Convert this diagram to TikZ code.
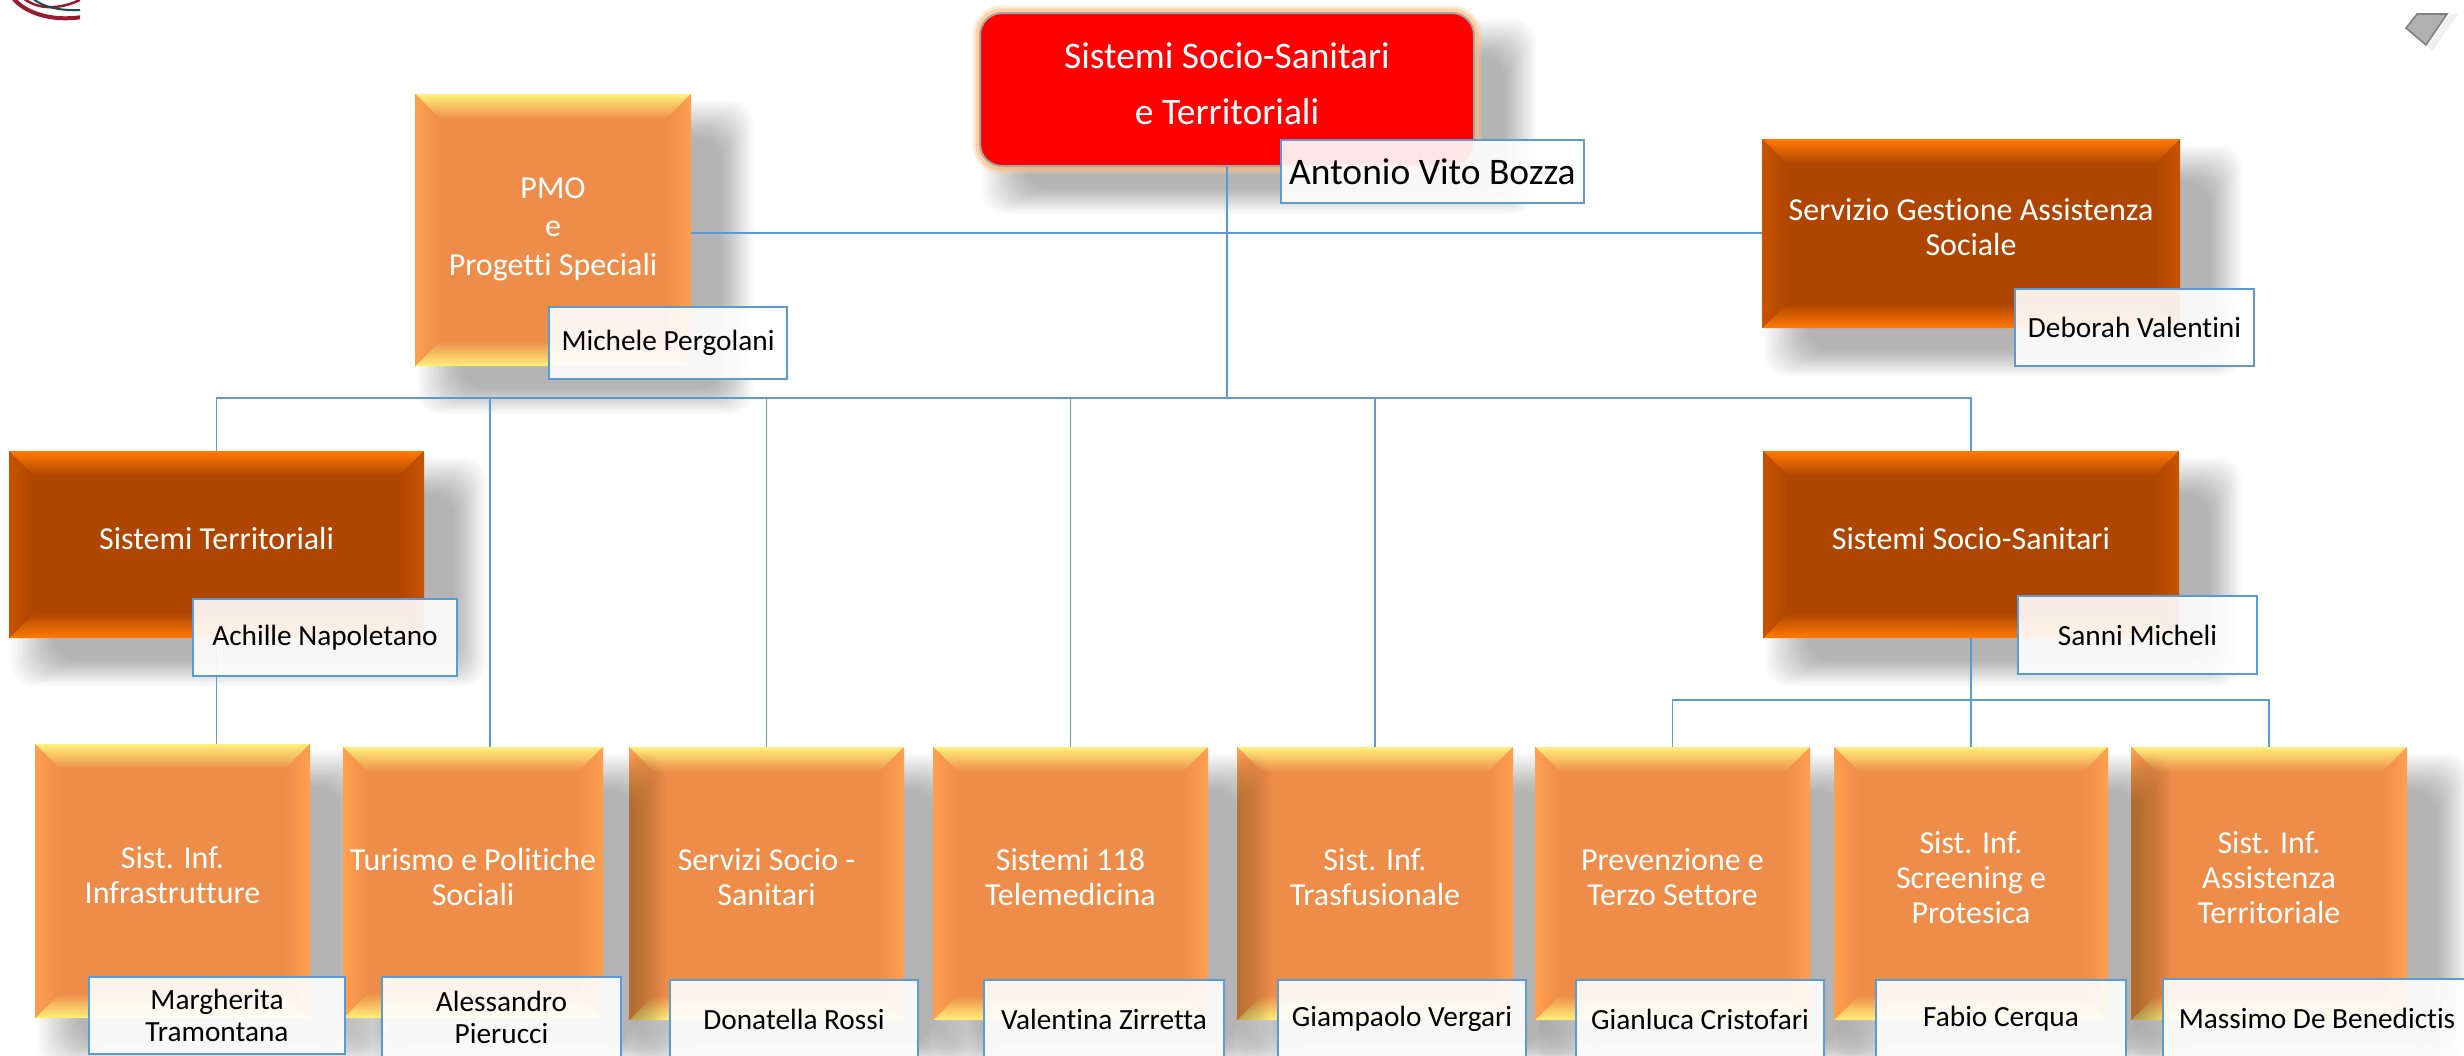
\documentclass[tikz,border=0pt]{standalone}
\usepackage{fontspec}
\setmainfont{Carlito}[Ligatures=NoCommon]
\usetikzlibrary{calc}
\definecolor{oEdge}{HTML}{FFF07A}\definecolor{oMid}{HTML}{FFAE5A}\definecolor{oSide}{HTML}{FFA050}\definecolor{oMain}{HTML}{EE8C4A}
\definecolor{dEdge}{HTML}{FF7A05}\definecolor{dMid}{HTML}{D85E00}\definecolor{dSide}{HTML}{C85400}\definecolor{dMain}{HTML}{AE4500}
\definecolor{linkblue}{HTML}{5B9BD5}
\definecolor{logored}{HTML}{9A1B30}
\definecolor{logoteal}{HTML}{1F4A58}
\newcommand{\boxfont}{\fontsize{32}{35}\selectfont}
\newcommand{\namefont}{\fontsize{29.3}{32}\selectfont}
\newcommand{\textshift}{-6}
\tikzset{
  boxbase/.style={inner sep=0pt,outer sep=0pt,draw=none},
  boxtext/.style={text=white,align=center,font=\boxfont,inner sep=0pt},
  namebox/.style={draw=linkblue,line width=2.6pt,fill=white,fill opacity=.9,text opacity=1,text=black,align=center,inner sep=0pt,font=\namefont},
  link/.style={draw=linkblue,line width=1.5pt},
}
\newcommand{\softshadow}[4]{%
  \foreach \i in {0,...,15}{
    \fill[black,opacity=.021,rounded corners=22pt]
      ({#1+2+\i*2.87},{#2+6+\i*2.47}) rectangle ({#3+62-\i*2.13},{#4+48-\i*1.73});
  }}
% name, x1, y1, x2, y2, colour prefix, text
\newcommand{\bevelbox}[7]{%
  \softshadow{#2}{#3}{#4}{#5}
  \node[boxbase,fill=#6Main,minimum width={(#4-#2)*1pt},minimum height={(#5-#3)*1pt},anchor=center] (#1) at ({(#2+#4)/2},{(#3+#5)/2}) {};
  \shade[top color=#6Edge,middle color=#6Mid,bottom color=#6Main] (#2,#3)--(#4,#3)--(#4-25,#3+25)--(#2+25,#3+25)--cycle;
  \shade[bottom color=#6Edge,middle color=#6Mid,top color=#6Main] (#2,#5)--(#4,#5)--(#4-25,#5-25)--(#2+25,#5-25)--cycle;
  \shade[left color=#6Side,right color=#6Main] (#2,#3)--(#2+25,#3+25)--(#2+25,#5-25)--(#2,#5)--cycle;
  \shade[right color=#6Side,left color=#6Main] (#4,#3)--(#4-25,#3+25)--(#4-25,#5-25)--(#4,#5)--cycle;
  \node[boxtext] (#1-text) at ($(#1.center)+(0,\textshift)$) {#7};
}
% name, x1, y1, x2, y2, text
\newcommand{\personbox}[6]{%
  \node[namebox,minimum width={(#4-#2)*1pt},minimum height={(#5-#3)*1pt}] (#1) at ({(#2+#4)/2},{(#3+#5)/2}) {#6};
}
\begin{document}
\begin{tikzpicture}[x=1pt,y=-1pt]
\useasboundingbox (0,0) rectangle (2464,1055);
\clip (0,0) rectangle (2464,1055);
\fill[white] (0,0) rectangle (2464,1055);
% cropped logo
\begin{scope}
\clip (0,0) rectangle (80,30);
\draw[color=logored,line width=4pt] (13,-2) .. controls (24,12) and (50,22) .. (82,17);
\draw[color=logored,line width=2.5pt] (23,-2) .. controls (38,10) and (60,10) .. (82,-1);
\draw[color=logoteal,line width=2pt] (32,-2) .. controls (44,8) and (62,11) .. (82,10);
\end{scope}
% cropped corner symbol
\fill[black,opacity=.06] (2450,14) -- (2458,14) -- (2432,52) -- (2428,46) -- cycle;
\fill[black!31,draw=black!50,line width=1.6pt] (2417,14) -- (2406,28) -- (2426,45) -- (2447,14) -- cycle;
\fill[white] (2400,0) rectangle (2464,13);
% top node
\softshadow{980}{13}{1474}{166}
\draw[color=orange!45,opacity=.35,line width=15pt,rounded corners=22pt] (980,13) rectangle (1474,166);
\draw[color=orange!55,opacity=.5,line width=9pt,rounded corners=22pt] (980,13) rectangle (1474,166);
\node[boxbase,draw=black!35,line width=2pt,fill=red,rounded corners=22pt,minimum width=494pt,minimum height=153pt] (top) at (1227,89.5) {};
\node[boxtext,font=\fontsize{37.5}{56}\selectfont] (top-text) at ($(top.center)+(0,-6)$) {Sistemi Socio-Sanitari\\e Territoriali};
% upper nodes
\renewcommand{\boxfont}{\fontsize{32}{38.5}\selectfont}
\renewcommand{\textshift}{-1}
\bevelbox{pmo}{415}{94}{691}{366}{o}{PMO\\e\\Progetti Speciali}
\renewcommand{\boxfont}{\fontsize{32}{35}\selectfont}
\renewcommand{\textshift}{-6}
\bevelbox{serv}{1762}{139}{2180}{328}{d}{Servizio Gestione Assistenza\\Sociale}
\bevelbox{terr}{9}{451}{424}{638}{d}{Sistemi Territoriali}
\bevelbox{socio}{1763}{451}{2179}{638}{d}{Sistemi Socio-Sanitari}
% bottom row
\bevelbox{infr}{35}{744}{310}{1018}{o}{Sist. Inf.\\Infrastrutture}
\bevelbox{serso}{629}{747}{904}{1020}{o}{Servizi Socio -\\Sanitari}
\bevelbox{turi}{343}{747}{603}{1018}{o}{Turismo e Politiche\\Sociali}
\bevelbox{tras}{1237}{747}{1513}{1020}{o}{Sist. Inf.\\Trasfusionale}
\bevelbox{tele}{933}{747}{1208}{1020}{o}{Sistemi 118\\Telemedicina}
\bevelbox{prev}{1535}{747}{1810}{1020}{o}{Prevenzione e\\Terzo Settore}
\bevelbox{assi}{2131}{747}{2407}{1020}{o}{Sist. Inf.\\Assistenza\\Territoriale}
\bevelbox{scre}{1834}{747}{2108}{1020}{o}{Sist. Inf.\\Screening e\\Protesica}
% connector junctions
\coordinate (busA) at (1227,233);
\coordinate (busB) at (1227,398);
\coordinate (busC) at (1971,700);
\coordinate (turitop) at (490,747);
% connectors
\draw[link] (top.south) -- (busB);
\draw[link] (pmo.east |- busA) -- (serv.west |- busA);
\draw[link] (busB) -| (terr.north);
\draw[link] (busB) -| (socio.north);
\draw[link] (busB) -| (turitop);
\draw[link] (busB) -| (serso.north);
\draw[link] (busB) -| (tele.north);
\draw[link] (busB) -| (tras.north);
\draw[link] (terr.south) -- (terr.south |- infr.north);
\draw[link] (socio.south) -- (scre.north);
\draw[link] (busC) -| (prev.north);
\draw[link] (busC) -| (assi.north);
% people
\renewcommand{\namefont}{\fontsize{37.5}{44}\selectfont}
\personbox{pTop}{1281}{140}{1584}{203}{Antonio Vito Bozza}
\renewcommand{\namefont}{\fontsize{29.3}{32}\selectfont}
\personbox{pPmo}{549}{307}{787}{379}{Michele Pergolani}
\personbox{pServ}{2015}{289}{2254}{366}{Deborah Valentini}
\personbox{pTerr}{193}{599}{457}{676}{Achille Napoletano}
\personbox{pSocio}{2018}{596}{2257}{674}{Sanni Micheli}
\personbox{pInfr}{89}{977}{345}{1054}{Margherita\\Tramontana}
\personbox{pTuri}{382}{977}{621}{1058}{Alessandro\\Pierucci}
\personbox{pSerso}{670}{980}{918}{1058}{Donatella Rossi}
\personbox{pTele}{984}{980}{1224}{1058}{Valentina Zirretta}
\personbox{pTras}{1278}{980}{1526}{1058}{Giampaolo Vergari}
\personbox{pPrev}{1576}{980}{1824}{1058}{Gianluca Cristofari}
\personbox{pScre}{1876}{980}{2126}{1058}{Fabio Cerqua}
\personbox{pAssi}{2163}{979}{2471}{1058}{Massimo De Benedictis}
\end{tikzpicture}
\end{document}
